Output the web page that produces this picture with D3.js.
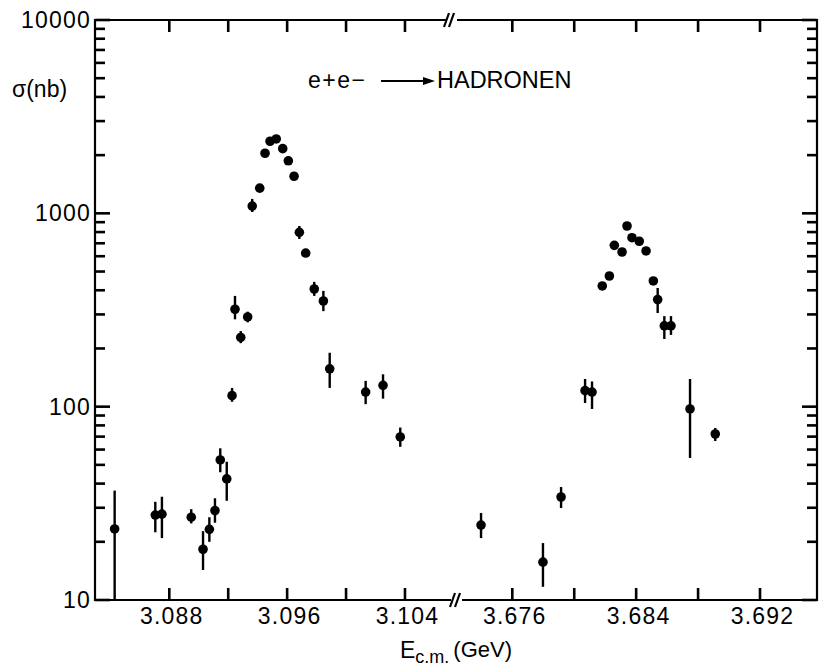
<!DOCTYPE html>
<head>
<style type="text/css">
	body { margin: 0; background: #fff; }
	text { font-family: "Liberation Sans", Arial, Helvetica, sans-serif; fill: #000; }
</style>
</head>
<script src="https://d3js.org/d3.v7.min.js"></script>
<body>
	<svg width="819" height="667"></svg>
	<script>
	// J/psi region
	var jpsiE     = [3.08429, 3.08705, 3.08750, 3.08949, 3.09029, 3.09072, 3.09110, 3.09146, 3.09190, 3.09226,
	                 3.09246, 3.09285, 3.09332, 3.09363, 3.09414, 3.09450, 3.09484, 3.09526, 3.09570, 3.09608,
	                 3.09647, 3.09683, 3.09726, 3.09784, 3.09846, 3.09889, 3.10133, 3.10251, 3.10368];
	var jpsiSigma = [23.3, 27.5, 27.8, 26.8, 18.3, 23.2, 29.0, 53.0, 42.3, 114,
	                 319, 228, 291, 1090, 1350, 2045, 2360, 2425, 2160, 1870,
	                 1555, 798, 623, 406, 352, 157, 119, 129, 69.7];
	var jpsiHi    = [36.8, 32.2, 34.2, 29.5, 22.7, 26.8, 33.6, 60.9, 51.9, 125,
	                 374, 246, 310, 1187, 1350, 2045, 2360, 2425, 2160, 1870,
	                 1555, 860, 623, 442, 397, 190, 136, 147, 78];
	var jpsiLo    = [10, 22.4, 20.9, 24.9, 14.3, 20.0, 25.1, 45.8, 32.6, 106,
	                 283, 213, 273, 1016, 1350, 2045, 2360, 2425, 2160, 1870,
	                 1555, 737, 623, 374, 312, 125, 103, 110, 62];

	// psi' region
	var psiE      = [3.67398, 3.67798, 3.67915, 3.68070, 3.68115, 3.68181, 3.68227, 3.68259, 3.68309, 3.68341,
	                 3.68373, 3.68420, 3.68464, 3.68511, 3.68539, 3.68582, 3.68625, 3.68748, 3.68911];
	var psiSigma  = [24.4, 15.7, 34.1, 121, 119, 421, 474, 683, 631, 860,
	                 748, 717, 639, 447, 358, 262, 262, 97.3, 72.2];
	var psiHi     = [28.2, 19.7, 38.4, 139, 135, 421, 474, 683, 631, 860,
	                 748, 717, 639, 447, 411, 294, 294, 139, 77.6];
	var psiLo     = [20.9, 11.7, 29.9, 104.5, 97.3, 421, 474, 683, 631, 860,
	                 748, 717, 639, 447, 305, 224, 235, 54.3, 66.4];

	var leftTicks  = [3.088, 3.092, 3.096, 3.100, 3.104];
	var rightTicks = [3.676, 3.680, 3.684, 3.688, 3.692];
	var leftLabels  = [3.088, 3.096, 3.104];
	var rightLabels = [3.676, 3.684, 3.692];
	var yMajor = [10, 100, 1000, 10000];

	var svg = d3.select("svg");
	var x0 = 95, x1 = 817, y0 = 20, y1 = 600, xb = 455;

	var y = d3.scaleLog().domain([10, 10000]).range([y1, y0]);
	var xL = d3.scaleLinear().domain([3.082956, 3.107396]).range([x0, xb]);
	var xR = d3.scaleLinear().domain([3.672298, 3.695682]).range([xb, x1]);

	var yMinor = [];
	[10, 100, 1000].forEach(function(d) {
		for (var k = 2; k <= 9; k++) yMinor.push(d * k);
	});

	// frame with axis breaks
	var frame = svg.append("g").attr("stroke", "#000").attr("stroke-width", 2.2).attr("fill", "none");
	frame.append("line").attr("x1", x0).attr("x2", x0).attr("y1", y0 - 1).attr("y2", y1 + 1);
	frame.append("line").attr("x1", x1).attr("x2", x1).attr("y1", y0 - 1).attr("y2", y1 + 1);
	frame.append("line").attr("x1", x0).attr("x2", 446).attr("y1", y0).attr("y2", y0);
	frame.append("line").attr("x1", 457).attr("x2", x1).attr("y1", y0).attr("y2", y0);
	frame.append("line").attr("x1", x0).attr("x2", 451).attr("y1", y1).attr("y2", y1);
	frame.append("line").attr("x1", 462).attr("x2", x1).attr("y1", y1).attr("y2", y1);
	[[446, y0], [451, y0], [452, y1], [457, y1]].forEach(function(p) {
		frame.append("line").attr("x1", p[0] - 2).attr("y1", p[1] + 7)
			.attr("x2", p[0] + 3).attr("y2", p[1] - 7);
	});

	// tick labels from d3 axes
	function styleAxis(g) {
		g.select(".domain").remove();
		g.selectAll(".tick line").remove();
		g.selectAll(".tick text").attr("font-size", 23).attr("fill", "#000")
			.attr("letter-spacing", 1.2)
			.attr("font-family", "Liberation Sans, Arial, sans-serif");
	}
	svg.append("g").attr("transform", "translate(" + x0 + ",0)")
		.call(d3.axisLeft(y).tickValues(yMajor).tickSize(0).tickPadding(4).tickFormat(d3.format("d")))
		.call(styleAxis);
	[[xL, leftLabels], [xR, rightLabels]].forEach(function(s) {
		svg.append("g").attr("transform", "translate(2," + y1 + ")")
			.call(d3.axisBottom(s[0]).tickValues(s[1]).tickSize(0).tickPadding(8)
				.tickFormat(d3.format(".3f")))
			.call(styleAxis);
	});

	// data points with error bars
	function drawSeries(xs, E, sig, hi, lo) {
		var pts = E.map(function(e, i) { return { e: e, s: sig[i], hi: hi[i], lo: lo[i] }; });
		var g = svg.append("g").attr("class", "points");
		g.selectAll("line.err").data(pts.filter(function(d) { return d.hi > d.lo; }))
			.enter().append("line")
			.attr("class", "err")
			.attr("x1", function(d) { return xs(d.e); })
			.attr("x2", function(d) { return xs(d.e); })
			.attr("y1", function(d) { return y(d.hi); })
			.attr("y2", function(d) { return y(d.lo); })
			.attr("stroke", "#000").attr("stroke-width", 2.4);
		g.selectAll("circle").data(pts)
			.enter().append("circle")
			.attr("cx", function(d) { return xs(d.e); })
			.attr("cy", function(d) { return y(d.s); })
			.attr("r", 4.8)
			.attr("fill", "#000");
	}
	drawSeries(xL, jpsiE, jpsiSigma, jpsiHi, jpsiLo);
	drawSeries(xR, psiE, psiSigma, psiHi, psiLo);

	// inward ticks, one rect per tick, placed with the scales
	function yTickRects(vals, len) {
		var out = [];
		vals.forEach(function(v) {
			out.push({ x: x0, y: y(v) - 1.3, w: len, h: 2.6 });
			out.push({ x: x1 - len, y: y(v) - 1.3, w: len, h: 2.6 });
		});
		return out;
	}
	function xTickRects(vals, xs) {
		var out = [];
		vals.forEach(function(v) {
			out.push({ x: xs(v) - 1.3, y: y1 - 12, w: 2.6, h: 12 });
			out.push({ x: xs(v) - 1.3, y: y0, w: 2.6, h: 12 });
		});
		return out;
	}
	var tickRects = [].concat(yTickRects(yMajor, 15), yTickRects(yMinor, 10),
		xTickRects(leftTicks, xL), xTickRects(rightTicks, xR));
	svg.append("g").attr("class", "ticks").selectAll("rect").data(tickRects).enter().append("rect")
		.attr("x", function(d) { return d.x; })
		.attr("y", function(d) { return d.y; })
		.attr("width", function(d) { return d.w; })
		.attr("height", function(d) { return d.h; })
		.attr("fill", "#000");

	// labels
	svg.append("text").attr("x", 12).attr("y", 97).attr("font-size", 23).text("σ(nb)");

	var title = svg.append("g");
	title.append("text").attr("x", 308).attr("y", 88).attr("font-size", 23)
		.attr("letter-spacing", 1.5).text("e+e−");
	title.append("line").attr("x1", 381).attr("x2", 426).attr("y1", 81).attr("y2", 81)
		.attr("stroke", "#000").attr("stroke-width", 1.8);
	title.append("path").attr("d", "M423,77 L435,81 L423,85 Z").attr("fill", "#000");
	title.append("text").attr("x", 437).attr("y", 88).attr("font-size", 23.5).text("HADRONEN");

	var xt = svg.append("text").attr("x", 400).attr("y", 658).attr("font-size", 23);
	xt.append("tspan").text("E");
	xt.append("tspan").attr("font-size", 18).attr("dy", 5).text("c.m.");
	xt.append("tspan").attr("font-size", 22).attr("dy", -6).attr("dx", 4).text("(GeV)");
	</script>
</body>
